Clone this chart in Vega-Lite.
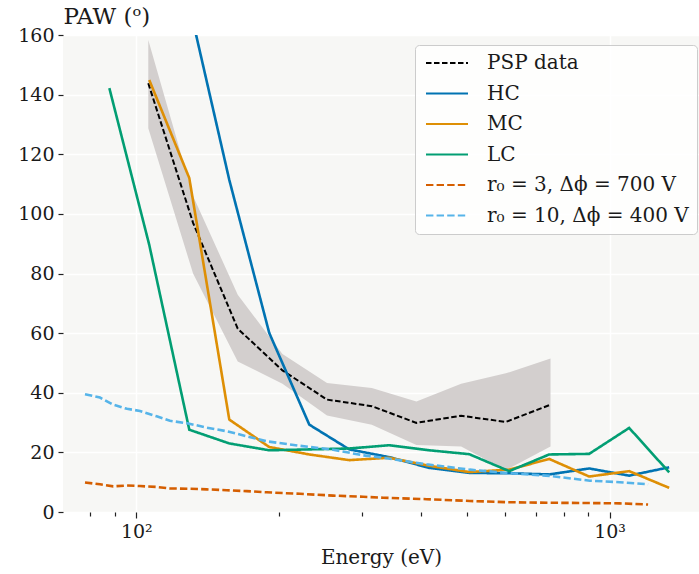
{
  "$schema": "https://vega.github.io/schema/vega-lite/v6.json",
  "width": 636,
  "height": 477,
  "autosize": {"type": "none"},
  "padding": {"left": 63, "top": 35, "right": 0, "bottom": 62},
  "background": "white",
  "config": {
    "view": {"fill": "#f7f7f5", "stroke": null},
    "font": "DejaVu Serif",
    "legend": {
      "orient": "none",
      "legendX": 352,
      "legendY": 10,
      "symbolType": "M-3,0L3,0",
      "symbolSize": 196,
      "symbolStrokeWidth": 2.2,
      "symbolOffset": 14,
      "labelFontSize": 20,
      "labelFont": "DejaVu Serif",
      "labelColor": "#1a1a1a",
      "labelOffset": 30,
      "labelLimit": 400,
      "rowPadding": 10.5,
      "padding": 8,
      "fillColor": "rgba(255,255,255,0.8)",
      "strokeColor": "#cccccc",
      "cornerRadius": 4
    }
  },
  "datasets": {
    "band": [
      {"E": 106.0, "lo": 128.7, "hi": 158.3},
      {"E": 131.8, "lo": 80, "hi": 106},
      {"E": 163.8, "lo": 50.5, "hi": 72.9},
      {"E": 203.6, "lo": 43, "hi": 53},
      {"E": 252.9, "lo": 32.4, "hi": 43.3},
      {"E": 314.5, "lo": 29.3, "hi": 41.6},
      {"E": 390.7, "lo": 22.5, "hi": 37.1},
      {"E": 485.7, "lo": 22, "hi": 43},
      {"E": 603.6, "lo": 14, "hi": 46.5},
      {"E": 750.2, "lo": 22, "hi": 51.5}
    ],
    "lines": [
      {"s": "PSP data", "E": 106.0, "v": 143.8},
      {"s": "PSP data", "E": 131.8, "v": 97},
      {"s": "PSP data", "E": 163.8, "v": 61.5},
      {"s": "PSP data", "E": 203.6, "v": 47.5},
      {"s": "PSP data", "E": 252.9, "v": 37.7},
      {"s": "PSP data", "E": 314.5, "v": 35.5},
      {"s": "PSP data", "E": 390.7, "v": 29.9},
      {"s": "PSP data", "E": 485.7, "v": 32.3},
      {"s": "PSP data", "E": 603.6, "v": 30.2},
      {"s": "PSP data", "E": 750.2, "v": 36.0},

      {"s": "HC", "E": 129.4, "v": 170},
      {"s": "HC", "E": 157.2, "v": 111.4},
      {"s": "HC", "E": 190.9, "v": 60.1},
      {"s": "HC", "E": 232.0, "v": 29.3},
      {"s": "HC", "E": 281.8, "v": 21},
      {"s": "HC", "E": 342.3, "v": 18.4},
      {"s": "HC", "E": 415.8, "v": 14.8},
      {"s": "HC", "E": 505.1, "v": 13.1},
      {"s": "HC", "E": 613.6, "v": 13.0},
      {"s": "HC", "E": 745.4, "v": 12.6},
      {"s": "HC", "E": 905.5, "v": 14.6},
      {"s": "HC", "E": 1100.0, "v": 12.2},
      {"s": "HC", "E": 1336.2, "v": 15.0},

      {"s": "MC", "E": 106.5, "v": 144.9},
      {"s": "MC", "E": 129.4, "v": 112},
      {"s": "MC", "E": 157.2, "v": 31},
      {"s": "MC", "E": 190.9, "v": 21.8},
      {"s": "MC", "E": 232.0, "v": 19.3},
      {"s": "MC", "E": 281.8, "v": 17.4},
      {"s": "MC", "E": 342.3, "v": 18.2},
      {"s": "MC", "E": 415.8, "v": 15.5},
      {"s": "MC", "E": 505.1, "v": 13.4},
      {"s": "MC", "E": 613.6, "v": 14.2},
      {"s": "MC", "E": 745.4, "v": 17.8},
      {"s": "MC", "E": 905.5, "v": 11.9},
      {"s": "MC", "E": 1100.0, "v": 13.7},
      {"s": "MC", "E": 1336.2, "v": 8.1},

      {"s": "LC", "E": 87.7, "v": 142.2},
      {"s": "LC", "E": 106.5, "v": 89.6},
      {"s": "LC", "E": 129.4, "v": 27.6},
      {"s": "LC", "E": 157.2, "v": 23.0},
      {"s": "LC", "E": 190.9, "v": 20.7},
      {"s": "LC", "E": 232.0, "v": 21.0},
      {"s": "LC", "E": 281.8, "v": 21.3},
      {"s": "LC", "E": 342.3, "v": 22.4},
      {"s": "LC", "E": 415.8, "v": 20.7},
      {"s": "LC", "E": 505.1, "v": 19.4},
      {"s": "LC", "E": 613.6, "v": 13.7},
      {"s": "LC", "E": 745.4, "v": 19.3},
      {"s": "LC", "E": 905.5, "v": 19.5},
      {"s": "LC", "E": 1100.0, "v": 28.2},
      {"s": "LC", "E": 1336.2, "v": 13.3},

      {"s": "r₀ = 3, Δϕ = 700 V", "E": 77.9, "v": 9.9},
      {"s": "r₀ = 3, Δϕ = 700 V", "E": 83.8, "v": 9.3},
      {"s": "r₀ = 3, Δϕ = 700 V", "E": 89.4, "v": 8.6},
      {"s": "r₀ = 3, Δϕ = 700 V", "E": 95.6, "v": 8.9},
      {"s": "r₀ = 3, Δϕ = 700 V", "E": 101.8, "v": 8.7},
      {"s": "r₀ = 3, Δϕ = 700 V", "E": 110.4, "v": 8.4},
      {"s": "r₀ = 3, Δϕ = 700 V", "E": 117.8, "v": 7.9},
      {"s": "r₀ = 3, Δϕ = 700 V", "E": 128.8, "v": 7.8},
      {"s": "r₀ = 3, Δϕ = 700 V", "E": 140.8, "v": 7.6},
      {"s": "r₀ = 3, Δϕ = 700 V", "E": 155.2, "v": 7.3},
      {"s": "r₀ = 3, Δϕ = 700 V", "E": 171.1, "v": 7.0},
      {"s": "r₀ = 3, Δϕ = 700 V", "E": 188.6, "v": 6.6},
      {"s": "r₀ = 3, Δϕ = 700 V", "E": 221.7, "v": 6.1},
      {"s": "r₀ = 3, Δϕ = 700 V", "E": 260.7, "v": 5.5},
      {"s": "r₀ = 3, Δϕ = 700 V", "E": 301.6, "v": 5.1},
      {"s": "r₀ = 3, Δϕ = 700 V", "E": 332.5, "v": 4.8},
      {"s": "r₀ = 3, Δϕ = 700 V", "E": 410.6, "v": 4.3},
      {"s": "r₀ = 3, Δϕ = 700 V", "E": 506.9, "v": 3.7},
      {"s": "r₀ = 3, Δϕ = 700 V", "E": 605.8, "v": 3.3},
      {"s": "r₀ = 3, Δϕ = 700 V", "E": 747.9, "v": 3.1},
      {"s": "r₀ = 3, Δϕ = 700 V", "E": 908.7, "v": 3.0},
      {"s": "r₀ = 3, Δϕ = 700 V", "E": 1051, "v": 2.9},
      {"s": "r₀ = 3, Δϕ = 700 V", "E": 1206, "v": 2.5},

      {"s": "r₀ = 10, Δϕ = 400 V", "E": 77.9, "v": 39.5},
      {"s": "r₀ = 10, Δϕ = 400 V", "E": 83.8, "v": 38.4},
      {"s": "r₀ = 10, Δϕ = 400 V", "E": 89.4, "v": 36.0},
      {"s": "r₀ = 10, Δϕ = 400 V", "E": 95.6, "v": 34.6},
      {"s": "r₀ = 10, Δϕ = 400 V", "E": 101.8, "v": 33.9},
      {"s": "r₀ = 10, Δϕ = 400 V", "E": 110.4, "v": 32.1},
      {"s": "r₀ = 10, Δϕ = 400 V", "E": 117.8, "v": 30.6},
      {"s": "r₀ = 10, Δϕ = 400 V", "E": 128.8, "v": 29.7},
      {"s": "r₀ = 10, Δϕ = 400 V", "E": 140.8, "v": 28.3},
      {"s": "r₀ = 10, Δϕ = 400 V", "E": 155.2, "v": 27.1},
      {"s": "r₀ = 10, Δϕ = 400 V", "E": 171.1, "v": 25.4},
      {"s": "r₀ = 10, Δϕ = 400 V", "E": 188.6, "v": 23.7},
      {"s": "r₀ = 10, Δϕ = 400 V", "E": 221.7, "v": 22.2},
      {"s": "r₀ = 10, Δϕ = 400 V", "E": 260.7, "v": 20.9},
      {"s": "r₀ = 10, Δϕ = 400 V", "E": 301.6, "v": 19.0},
      {"s": "r₀ = 10, Δϕ = 400 V", "E": 332.5, "v": 18.2},
      {"s": "r₀ = 10, Δϕ = 400 V", "E": 410.6, "v": 16.0},
      {"s": "r₀ = 10, Δϕ = 400 V", "E": 506.9, "v": 14.2},
      {"s": "r₀ = 10, Δϕ = 400 V", "E": 605.8, "v": 13.1},
      {"s": "r₀ = 10, Δϕ = 400 V", "E": 747.9, "v": 12.1},
      {"s": "r₀ = 10, Δϕ = 400 V", "E": 908.7, "v": 10.5},
      {"s": "r₀ = 10, Δϕ = 400 V", "E": 1051, "v": 10.0},
      {"s": "r₀ = 10, Δϕ = 400 V", "E": 1206, "v": 9.3}
    ]
  },
  "encoding": {
    "x": {
      "field": "E", "type": "quantitative",
      "scale": {"type": "log", "domain": [70, 1545], "nice": false},
      "axis": {
        "values": [80, 90, 100, 200, 300, 400, 500, 600, 700, 800, 900, 1000],
        "labelExpr": "datum.value == 100 ? '10²' : (datum.value == 1000 ? '10³' : '')",
        "labelFontSize": 19,
        "labelColor": "#1a1a1a",
        "labelPadding": 4,
        "labelFlush": false,
        "labelOverlap": false,
        "domain": false,
        "grid": true,
        "gridColor": "white",
        "gridWidth": 1.5,
        "gridOpacity": {"condition": {"test": "datum.value == 100 || datum.value == 1000", "value": 1}, "value": 0},
        "tickColor": "#222222",
        "tickSize": {"condition": {"test": "datum.value == 100 || datum.value == 1000", "value": 6}, "value": 4},
        "tickWidth": 1.2,
        "title": "Energy (eV)",
        "titleFontSize": 20,
        "titleFontWeight": "normal",
        "titleColor": "#1a1a1a",
        "titlePadding": 6
      }
    }
  },
  "layer": [
    {
      "data": {"name": "band"},
      "mark": {"type": "area", "color": "#d3cfce", "opacity": 1, "clip": true},
      "encoding": {
        "y": {
          "field": "lo", "type": "quantitative",
          "scale": {"domain": [0, 160], "nice": false},
          "axis": {
            "values": [0, 20, 40, 60, 80, 100, 120, 140, 160],
            "labelFontSize": 19,
            "labelColor": "#1a1a1a",
            "labelPadding": 4,
            "domain": false,
            "grid": true,
            "gridColor": "white",
            "gridWidth": 1.5,
            "tickColor": "#222222",
            "tickSize": 5,
            "tickWidth": 1.2,
            "title": "PAW (ᵒ)",
            "titleAngle": 0,
            "titleAlign": "left",
            "titleBaseline": "alphabetic",
            "titleX": 0,
            "titleY": -12,
            "titleFontSize": 23,
            "titleFontWeight": "normal",
            "titleColor": "#1a1a1a"
          }
        },
        "y2": {"field": "hi"}
      }
    },
    {
      "data": {"name": "lines"},
      "transform": [{"filter": "datum.s == 'PSP data'"}],
      "mark": {"type": "line", "clip": true, "strokeWidth": 2},
      "encoding": {
        "y": {"field": "v", "type": "quantitative"},
        "color": {
          "field": "s", "type": "nominal",
          "scale": {
            "domain": ["PSP data", "HC", "MC", "LC", "r₀ = 3, Δϕ = 700 V", "r₀ = 10, Δϕ = 400 V"],
            "range": ["#000000", "#0173b2", "#de8f05", "#029e73", "#d55e00", "#56b4e9"]
          },
          "legend": {"title": null}
        },
        "strokeDash": {
          "field": "s", "type": "nominal",
          "scale": {
            "domain": ["PSP data", "HC", "MC", "LC", "r₀ = 3, Δϕ = 700 V", "r₀ = 10, Δϕ = 400 V"],
            "range": [[5.5, 2.5], [1, 0], [1, 0], [1, 0], [7.4, 3.2], [7.4, 3.2]]
          },
          "legend": {"title": null}
        }
      }
    },
    {
      "data": {"name": "lines"},
      "transform": [{"filter": "datum.s != 'PSP data'"}],
      "mark": {"type": "line", "clip": true, "strokeWidth": 2.6},
      "encoding": {
        "y": {"field": "v", "type": "quantitative"},
        "color": {
          "field": "s", "type": "nominal",
          "scale": {
            "domain": ["PSP data", "HC", "MC", "LC", "r₀ = 3, Δϕ = 700 V", "r₀ = 10, Δϕ = 400 V"],
            "range": ["#000000", "#0173b2", "#de8f05", "#029e73", "#d55e00", "#56b4e9"]
          },
          "legend": {"title": null}
        },
        "strokeDash": {
          "field": "s", "type": "nominal",
          "scale": {
            "domain": ["PSP data", "HC", "MC", "LC", "r₀ = 3, Δϕ = 700 V", "r₀ = 10, Δϕ = 400 V"],
            "range": [[5.5, 2.5], [1, 0], [1, 0], [1, 0], [7.4, 3.2], [7.4, 3.2]]
          },
          "legend": {"title": null}
        }
      }
    }
  ]
}
